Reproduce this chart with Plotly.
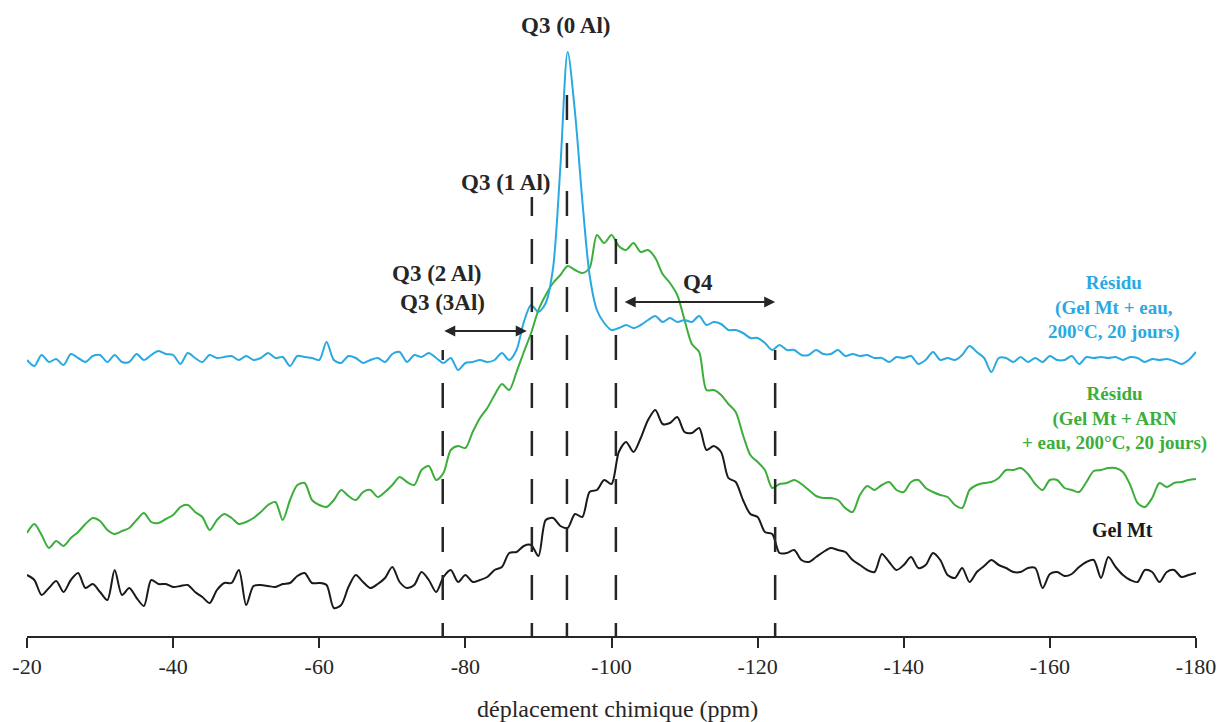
import plotly.graph_objects as go

# chemical shift grid (ppm)
ppm = list(range(-20, -181, -1))

# Résidu (Gel Mt + eau, 200°C, 20 jours) - blue
residu_eau = [276, 270, 281, 274, 277, 271, 282, 278, 274, 280,
              281, 274, 281, 274, 274, 282, 276, 281, 285, 282,
              281, 272, 283, 278, 274, 281, 278, 279, 280, 276,
              280, 276, 278, 283, 278, 279, 270, 280, 279, 278,
              276, 294, 276, 273, 280, 278, 273, 276, 278, 274,
              282, 284, 274, 281, 279, 283, 278, 273, 278, 266,
              273, 274, 276, 274, 276, 283, 276, 286, 314, 331,
              324, 333, 368, 469, 584, 524, 436, 361, 326, 313,
              306, 308, 311, 308, 311, 316, 320, 314, 318, 314,
              316, 314, 320, 311, 314, 312, 306, 306, 303, 298,
              298, 293, 286, 291, 286, 286, 281, 281, 286, 282,
              282, 286, 280, 282, 280, 281, 278, 278, 274, 279,
              278, 280, 272, 276, 284, 276, 278, 276, 281, 290,
              284, 278, 264, 278, 278, 274, 279, 274, 278, 274,
              280, 276, 276, 280, 272, 279, 278, 279, 278, 279,
              276, 279, 278, 274, 277, 276, 277, 275, 272, 276,
              284]

# Résidu (Gel Mt + ARN + eau, 200°C, 20 jours) - green
residu_arn = [103, 112, 101, 88, 95, 90, 98, 104, 112, 118,
              115, 106, 102, 105, 108, 116, 123, 114, 113, 117,
              121, 129, 131, 124, 119, 106, 116, 122, 118, 112,
              114, 118, 124, 131, 134, 116, 136, 151, 153, 136,
              131, 129, 136, 146, 140, 136, 144, 146, 139, 144,
              151, 159, 154, 151, 166, 170, 156, 163, 186, 190,
              188, 204, 218, 228, 241, 252, 246, 264, 284, 303,
              326, 341, 353, 361, 370, 366, 363, 368, 401, 393,
              401, 390, 386, 393, 384, 386, 378, 362, 353, 341,
              316, 292, 284, 246, 246, 241, 232, 224, 201, 181,
              174, 166, 148, 152, 153, 156, 152, 146, 140, 138,
              138, 136, 128, 124, 141, 150, 146, 151, 154, 146,
              144, 154, 156, 148, 144, 141, 139, 131, 128, 146,
              151, 153, 154, 158, 166, 166, 168, 162, 152, 146,
              156, 156, 148, 146, 144, 154, 165, 166, 168, 168,
              164, 151, 133, 129, 138, 153, 149, 153, 154, 156,
              157]

# Gel Mt - black
gel_mt = [61, 56, 41, 48, 55, 44, 56, 63, 48, 52,
          44, 36, 66, 41, 48, 38, 30, 56, 52, 52,
          49, 50, 51, 44, 39, 33, 46, 53, 53, 66,
          31, 50, 51, 50, 49, 52, 53, 60, 63, 53,
          53, 51, 28, 31, 49, 61, 54, 48, 52, 58,
          69, 54, 48, 51, 64, 56, 44, 59, 66, 54,
          61, 54, 56, 59, 66, 69, 83, 84, 90, 91,
          80, 116, 118, 110, 108, 122, 119, 144, 146, 156,
          152, 184, 194, 184, 198, 216, 226, 212, 213, 219,
          204, 203, 208, 186, 190, 184, 158, 154, 136, 122,
          119, 104, 102, 83, 83, 86, 76, 74, 79, 84,
          88, 86, 84, 76, 71, 66, 64, 82, 74, 66,
          71, 79, 68, 71, 83, 76, 61, 58, 68, 54,
          64, 70, 76, 71, 68, 64, 64, 68, 68, 48,
          62, 64, 60, 62, 69, 74, 76, 58, 79, 69,
          61, 56, 54, 66, 64, 54, 64, 66, 59, 61,
          63]

# reference positions (ppm) and heights of dashed lines
q_lines_ppm = [-76.9, -89.1, -93.9, -100.6, -122.4]
q_lines_top = [286, 439, 548, 399, 286]

tick_vals = [-20, -40, -60, -80, -100, -120, -140, -160, -180]
tick_text = ["-20", "-40", "-60", "-80", "-100", "-120", "-140", "-160", "-180"]

BLUE = "#29a9e1"
GREEN = "#3cae3b"
BLACK = "#1a1a1a"
DARK = "#262626"
SERIF = "Liberation Serif"

fig = go.Figure()
for yvals, col in [(gel_mt, BLACK), (residu_arn, GREEN), (residu_eau, BLUE)]:
    fig.add_trace(go.Scatter(
        x=ppm, y=yvals, mode="lines",
        line=dict(color=col, width=2, shape="spline", smoothing=0.8),
        showlegend=False, hoverinfo="skip"))

for xq, top in zip(q_lines_ppm, q_lines_top):
    fig.add_shape(type="line", xref="x", yref="y", x0=xq, x1=xq, y0=-12, y1=top,
                  line=dict(color=DARK, width=2.5, dash="25px,23px"), layer="above")

annotations = []
def lab(text, x, y, size=23, color=DARK, xref="x", yref="y"):
    annotations.append(dict(text=text, x=x, y=y, xref=xref, yref=yref, showarrow=False,
                            font=dict(family=SERIF, size=size, color=color),
                            xanchor="center", yanchor="middle"))

lab("<b>Q3 (0 Al)</b>", -93.75, 611 / 600, yref="paper")
lab("<b>Q3 (1 Al)</b>", -85.5, 454)
lab("<b>Q3 (2 Al)</b>", -76.1, 363)
lab("<b>Q3 (3Al)</b>", -76.8, 334)
lab("<b>Q4</b>", -111.9, 354)
lab("<b>Résidu<br>(Gel Mt + eau,<br>200°C, 20 jours)</b>", -168.8, 329, size=19, color=BLUE)
lab("<b>Résidu<br>(Gel Mt + ARN<br>+ eau, 200°C, 20 jours)</b>", -168.8, 218, size=19, color=GREEN)
lab("<b>Gel Mt</b>", -170.0, 106, size=20, color=BLACK)
lab("déplacement chimique (ppm)", 0.505, -0.121, size=24, color=DARK, xref="paper", yref="paper")

# double-headed arrows
for (xa, xb, yy) in [(-76.9, -88.4, 305), (-101.6, -122.4, 334)]:
    annotations.append(dict(x=xb, y=yy, ax=xa, ay=yy, xref="x", yref="y", axref="x", ayref="y",
                            showarrow=True, arrowhead=2, arrowside="end+start",
                            arrowsize=1.1, arrowwidth=2, arrowcolor=DARK, text=""))

fig.update_layout(
    width=1221, height=722, autosize=False,
    margin=dict(l=27, r=25, t=36, b=86, autoexpand=False),
    paper_bgcolor="white", plot_bgcolor="white",
    annotations=annotations,
    xaxis=dict(range=[-20, -180], showline=True, linecolor=DARK, linewidth=2,
               ticks="outside", ticklen=10, tickwidth=1.5, tickcolor=DARK,
               tickvals=tick_vals, ticktext=tick_text, automargin=False,
               tickfont=dict(family=SERIF, size=22, color=DARK),
               showgrid=False, zeroline=False, fixedrange=True),
    yaxis=dict(range=[0, 600], visible=False, showgrid=False, zeroline=False,
               fixedrange=True, automargin=False),
)

fig.write_html("out.html", config={"displayModeBar": False, "responsive": False},
               default_width="1221px", default_height="722px",
               post_script="document.body.style.margin='0';document.body.style.overflow='hidden';")
